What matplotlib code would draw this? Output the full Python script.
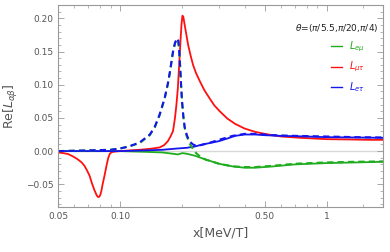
import matplotlib
matplotlib.use("Agg")
import matplotlib.pyplot as plt
from matplotlib.ticker import FixedLocator, FixedFormatter, MultipleLocator, NullFormatter, FuncFormatter

# L_mu_tau (solid red)
x_mt = [0.050, 0.053, 0.056, 0.059, 0.062, 0.065, 0.067, 0.069, 0.071, 0.073, 0.075,
        0.077, 0.078, 0.079, 0.080, 0.081, 0.082, 0.084, 0.086, 0.0875, 0.089, 0.091,
        0.095, 0.100, 0.110, 0.124, 0.140, 0.155, 0.163, 0.170, 0.175, 0.180, 0.184,
        0.187, 0.190, 0.192, 0.194, 0.196, 0.198, 0.200, 0.202, 0.205, 0.209, 0.213,
        0.219, 0.225, 0.233, 0.243, 0.255, 0.270, 0.285, 0.303, 0.330, 0.360, 0.400,
        0.450, 0.500, 0.600, 0.750, 1.000, 1.300, 1.600, 1.900]
y_mt = [-0.002, -0.003, -0.0045, -0.008, -0.012, -0.017, -0.022, -0.029, -0.037, -0.049, -0.059,
        -0.067, -0.069, -0.069, -0.066, -0.060, -0.051, -0.036, -0.020, -0.010, -0.004, -0.0015,
        -0.0005, 0.000, 0.001, 0.002, 0.0035, 0.0055, 0.009, 0.015, 0.022, 0.030, 0.050,
        0.070, 0.095, 0.120, 0.145, 0.170, 0.192, 0.204, 0.202, 0.190, 0.175, 0.160,
        0.144, 0.130, 0.117, 0.105, 0.092, 0.080, 0.069, 0.060, 0.049, 0.041, 0.034,
        0.029, 0.026, 0.022, 0.020, 0.018, 0.0175, 0.017, 0.017]

# L_e_mu / L_e_tau, dashed (with resonance peak)
x_pk = [0.050, 0.070, 0.090, 0.100, 0.110, 0.124, 0.139, 0.147, 0.155, 0.164, 0.170,
        0.174, 0.180, 0.184, 0.188, 0.191, 0.193, 0.195, 0.197, 0.199, 0.202, 0.205,
        0.210, 0.216, 0.225, 0.233, 0.245, 0.260, 0.280, 0.300, 0.350, 0.400, 0.450,
        0.550, 0.700, 1.000, 1.400, 1.900]
y_et_dash = [0.000, 0.001, 0.002, 0.004, 0.007, 0.013, 0.025, 0.037, 0.055, 0.080, 0.102,
             0.120, 0.150, 0.163, 0.170, 0.166, 0.150, 0.125, 0.098, 0.075, 0.052, 0.036,
             0.024, 0.015, 0.010, 0.008, 0.009, 0.011, 0.014, 0.017, 0.023, 0.026, 0.026,
             0.024, 0.023, 0.022, 0.021, 0.0205]
y_em_dash = [0.000, 0.001, 0.002, 0.004, 0.007, 0.012, 0.024, 0.036, 0.054, 0.079, 0.101,
             0.119, 0.149, 0.162, 0.169, 0.166, 0.151, 0.127, 0.100, 0.076, 0.052, 0.035,
             0.022, 0.012, 0.003, -0.003, -0.009, -0.013, -0.016, -0.019, -0.023, -0.024, -0.024,
             -0.022, -0.019, -0.017, -0.016, -0.0155]

# L_e_tau (solid blue)
x_sm = [0.050, 0.100, 0.130, 0.160, 0.190, 0.210, 0.230, 0.250, 0.280, 0.300, 0.330,
        0.360, 0.400, 0.450, 0.500, 0.600, 0.800, 1.000, 1.400, 1.900]
y_et = [0.000, 0.000, 0.001, 0.002, 0.004, 0.005, 0.007, 0.010, 0.013, 0.015, 0.019,
        0.023, 0.025, 0.025, 0.024, 0.023, 0.022, 0.021, 0.0205, 0.020]
# L_e_mu (solid green)
x_sm2 = [0.050, 0.100, 0.130, 0.160, 0.180, 0.190, 0.200, 0.210, 0.230, 0.250, 0.280,
         0.300, 0.350, 0.400, 0.450, 0.550, 0.700, 1.000, 1.400, 1.900]
y_em = [0.000, 0.000, -0.001, -0.002, -0.004, -0.005, -0.003, -0.004, -0.007, -0.011, -0.016,
        -0.019, -0.023, -0.025, -0.025, -0.023, -0.020, -0.018, -0.017, -0.016]

green = '#1fac1f'
red = '#ff1010'
blue = '#1515ee'
gray = '#999999'

plt.rcParams['font.family'] = ['DejaVu Sans']
fig = plt.figure(figsize=(3.9, 2.52), dpi=100)
ax = fig.add_axes([0.149, 0.179, 0.833, 0.801])

ax.axhline(0, color='#d8d8d8', lw=1.0, zorder=0)
ax.plot(x_sm2, y_em, color=green, lw=1.3)
ax.plot(x_mt, y_mt, color=red, lw=1.3)
ax.plot(x_sm, y_et, color=blue, lw=1.3)
ax.plot(x_pk, y_em_dash, color=green, lw=1.5, ls=(0, (3, 2)))
ax.plot(x_pk, y_et_dash, color=blue, lw=1.5, ls=(0, (3, 2)))

ax.set_xscale('log')
ax.set_xlim(0.05, 1.87)
ax.set_ylim(-0.084, 0.22)

ax.xaxis.set_major_locator(FixedLocator([0.05, 0.1, 0.5, 1]))
ax.xaxis.set_major_formatter(FixedFormatter(['0.05', '0.10', '0.50', '1']))
ax.xaxis.set_minor_locator(FixedLocator([0.06, 0.07, 0.08, 0.09, 0.2, 0.3, 0.4, 0.6, 0.7, 0.8, 0.9, 1.5]))
ax.xaxis.set_minor_formatter(NullFormatter())
ax.yaxis.set_major_locator(MultipleLocator(0.05))
ax.yaxis.set_minor_locator(MultipleLocator(0.01))
ax.yaxis.set_major_formatter(FuncFormatter(lambda v, p: f'{v:.2f}'.replace('-', '\u2212')))

ax.tick_params(which='both', direction='in', top=True, right=True, color=gray,
               labelcolor='#555555', labelsize=6.5)
ax.tick_params(which='major', length=4, width=0.6)
ax.tick_params(which='minor', length=2, width=0.5)
for s in ax.spines.values():
    s.set_color(gray)
    s.set_linewidth(0.8)

ax.set_xlabel('x[MeV/T]', color='#555555', fontsize=9)
ax.set_ylabel(r'Re[$L_{\alpha\beta}$]', color='#555555', fontsize=9)

ax.text(0.985, 0.885, r'$\theta$=($\pi$/5.5,$\pi$/20,$\pi$/4)', transform=ax.transAxes,
        ha='right', va='center', fontsize=6.5, color='#222222')
labels = [r'$L_{e\mu}$', r'$L_{\mu\tau}$', r'$L_{e\tau}$']
cols = [green, red, blue]
ys = [0.795, 0.695, 0.595]
for lab, c, yy in zip(labels, cols, ys):
    ax.plot([0.84, 0.875], [yy, yy], transform=ax.transAxes, color=c, lw=1.0)
    ax.text(0.895, yy, lab, transform=ax.transAxes, ha='left', va='center',
            fontsize=7, color=c)

fig.savefig('out.png', dpi=100)
